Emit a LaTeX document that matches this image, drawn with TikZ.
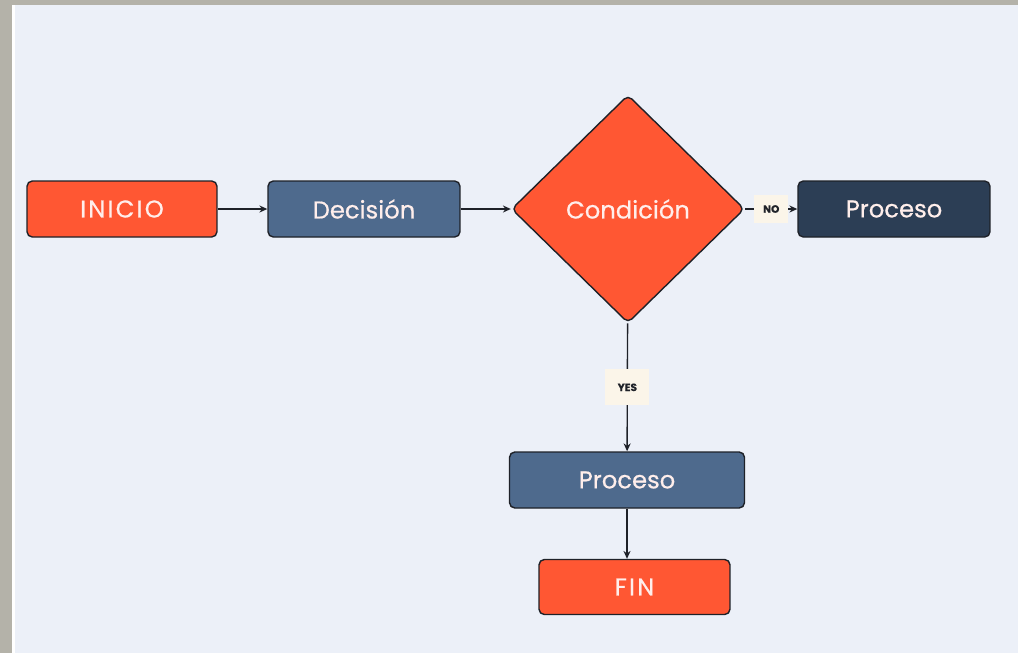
\documentclass[tikz,border=0pt]{standalone}
\usepackage{fontspec}
\setmainfont{Poppins}[FakeBold=0.6]
\usetikzlibrary{shapes.geometric,arrows.meta}
\definecolor{naranja}{HTML}{FF5733}
\definecolor{azul}{HTML}{4E6A8D}
\definecolor{marino}{HTML}{2C3E55}
\definecolor{fondo}{HTML}{ECF0F8}
\definecolor{crema}{HTML}{FBF5E9}
\definecolor{gris}{HTML}{B4B2A9}
\definecolor{borde}{HTML}{1E2128}
\begin{document}
\begin{tikzpicture}[x=0.02cm, y=-0.02cm,
    caja/.style={rectangle, rounded corners=3pt, draw=borde, line width=0.8pt,
        minimum height=1.12cm, text=white!90!naranja, font=\fontsize{13.8}{16}\selectfont},
    rombo/.style={diamond, rounded corners=3pt, draw=borde, line width=0.8pt, fill=naranja,
        minimum width=4.66cm, minimum height=4.56cm, inner sep=0pt,
        text=white!90!naranja, font=\fontsize{13.8}{16}\selectfont},
    espaciado/.style={font=\fontsize{13.8}{16}\selectfont\addfontfeature{LetterSpace=9}},
    etiqueta/.style={fill=crema, inner xsep=5pt, inner ysep=6pt, text=borde,
        font=\fontsize{6}{7}\selectfont\bfseries},
    flecha/.style={draw=borde, line width=0.8pt, -{Stealth[length=4.5pt, width=4pt]}}]
    % fondo
    \useasboundingbox (0,0) rectangle (1018,653);
    \fill[gris] (0,0) rectangle (1018,653);
    \fill[white] (12,5) rectangle (1018,653);
    \fill[fondo] (15,5) rectangle (1018,653);

    % nodos
    \node[caja, espaciado, fill=naranja, minimum width=3.8cm] (inicio) at (122,209) {INICIO};
    \node[caja, fill=azul, minimum width=3.84cm] (decision) at (364,209) {Decisión};
    \node[rombo] (condicion) at (628,209) {Condición};
    \node[caja, fill=marino, minimum width=3.84cm] (procesoNo) at (894,209) {Proceso};
    \node[caja, fill=azul, minimum width=4.7cm] (procesoSi) at (627,480) {Proceso};
    \node[caja, espaciado, fill=naranja, minimum width=3.82cm, minimum height=1.1cm] (fin) at (634.5,587) {FIN};

    % conectores
    \draw[flecha] (inicio) -- (decision);
    \draw[flecha] (decision) -- (condicion);
    \draw[flecha] (condicion) -- node[etiqueta] {NO} (procesoNo);
    \draw[flecha] (condicion) -- node[etiqueta, inner ysep=8pt, inner xsep=7pt] {YES} (procesoSi);
    \draw[flecha] (procesoSi) -- (procesoSi |- fin.north);
\end{tikzpicture}
\end{document}
